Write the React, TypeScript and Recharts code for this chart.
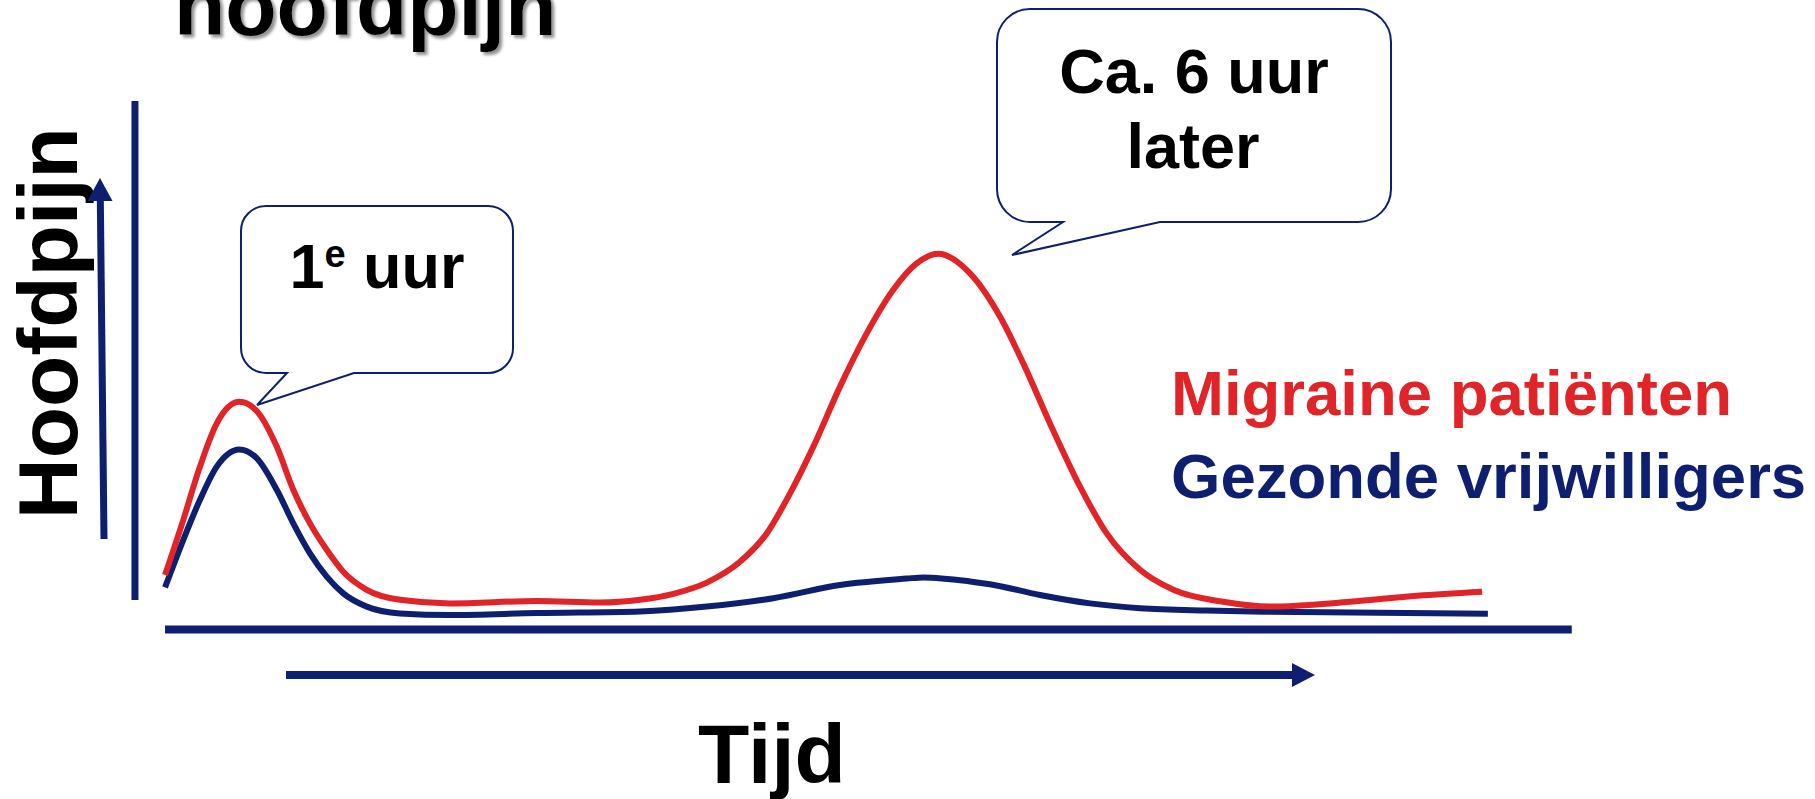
import React from "react";
import { LineChart, Line, XAxis, YAxis, ReferenceLine } from "recharts";

// time (hours) and headache level
const migraineTime = [
  0.365, 0.522, 0.665, 0.809, 1.003, 1.152, 1.324, 1.466, 1.609, 1.753, 1.895,
  2.096, 2.382, 2.811, 3.558, 4.099, 4.442, 4.728, 5.015, 5.3, 5.53, 5.73,
  5.93, 6.159, 6.388, 6.616, 6.817, 7.003, 7.275, 7.532, 7.732, 7.961, 8.219,
  8.448, 8.734, 9.02, 9.449, 9.85, 10.536, 11.112, 11.67,
];
const migraineLevel = [
  1.35, 2.73, 4.06, 5.14, 5.68, 5.45, 4.56, 3.48, 2.64, 1.98, 1.43, 0.98, 0.73,
  0.64, 0.7, 0.66, 0.73, 0.88, 1.16, 1.68, 2.39, 3.39, 4.56, 6.06, 7.39, 8.48,
  9.14, 9.38, 8.89, 7.81, 6.64, 5.14, 3.56, 2.39, 1.48, 0.98, 0.68, 0.56, 0.68,
  0.83, 0.93,
];

const healthyTime = [
  0.365, 0.522, 0.665, 0.809, 1.003, 1.152, 1.324, 1.466, 1.609, 1.753, 1.895,
  2.096, 2.382, 2.811, 3.558, 4.442, 5.015, 5.586, 6.159, 6.731, 6.874, 7.275,
  7.446, 7.875, 8.305, 8.734, 9.307, 9.85, 11.72,
];
const healthyLevel = [
  1.04, 2.23, 3.23, 4.06, 4.49, 4.27, 3.48, 2.64, 1.89, 1.31, 0.89, 0.56, 0.39,
  0.35, 0.4, 0.44, 0.56, 0.77, 1.1, 1.26, 1.29, 1.19, 1.12, 0.85, 0.64, 0.52,
  0.46, 0.43, 0.38,
];

const seriesNames = ["Migraine patiënten", "Gezonde vrijwilligers"];

const RED = "#E02428";
const NAVY = "#0E1F70";
const FONT = "'Liberation Sans', Arial, sans-serif";

const migraineData = migraineTime.map((t, i) => ({ t, v: migraineLevel[i] }));
const healthyData = healthyTime.map((t, i) => ({ t, v: healthyLevel[i] }));

function bubble(
  x0: number,
  y0: number,
  x1: number,
  y1: number,
  r: number,
  tailA: number,
  tailB: number,
  tipX: number,
  tipY: number
) {
  return (
    `M${x0 + r},${y0} H${x1 - r} A${r},${r} 0 0 1 ${x1},${y0 + r} ` +
    `V${y1 - r} A${r},${r} 0 0 1 ${x1 - r},${y1} H${tailB} L${tipX},${tipY} ` +
    `L${tailA},${y1} H${x0 + r} A${r},${r} 0 0 1 ${x0},${y1 - r} ` +
    `V${y0 + r} A${r},${r} 0 0 1 ${x0 + r},${y0} Z`
  );
}

export default function App() {
  return (
    <div
      style={{
        position: "absolute",
        left: 0,
        top: 0,
        width: 1815,
        height: 799,
        background: "#fff",
        overflow: "hidden",
      }}
    >
      <LineChart
        width={1815}
        height={799}
        margin={{ top: 229, right: 178, bottom: 170, left: 122.5 }}
      >
        <XAxis
          type="number"
          dataKey="t"
          domain={[0, 13]}
          allowDataOverflow
          hide
        />
        <YAxis type="number" domain={[0, 10]} allowDataOverflow hide />
        {/* axis strokes */}
        <ReferenceLine
          segment={[
            { x: 0.107, y: 0.725 },
            { x: 0.107, y: 13.2 },
          ]}
          stroke={NAVY}
          strokeWidth={7}
          ifOverflow="visible"
        />
        <ReferenceLine
          segment={[
            { x: 0.365, y: -0.012 },
            { x: 12.44, y: -0.012 },
          ]}
          stroke={NAVY}
          strokeWidth={8}
          ifOverflow="visible"
        />
        <Line
          data={healthyData}
          dataKey="v"
          name={seriesNames[1]}
          type="monotone"
          stroke={NAVY}
          strokeWidth={6}
          dot={false}
          isAnimationActive={false}
        />
        <Line
          data={migraineData}
          dataKey="v"
          name={seriesNames[0]}
          type="monotone"
          stroke={RED}
          strokeWidth={6}
          dot={false}
          isAnimationActive={false}
        />
      </LineChart>

      <svg
        width={1815}
        height={799}
        style={{ position: "absolute", left: 0, top: 0, pointerEvents: "none" }}
        fontFamily={FONT}
        fontWeight="bold"
      >
        <defs>
          <filter id="shadow" x="-10%" y="-30%" width="120%" height="160%">
            <feDropShadow dx="3" dy="3" stdDeviation="1.5" floodColor="#777" floodOpacity="0.8" />
          </filter>
        </defs>

        <text x={174} y={35} fontSize={84} fill="#000" filter="url(#shadow)">
          hoofdpijn
        </text>

        <text
          transform="translate(77,323) rotate(-90)"
          textAnchor="middle"
          fontSize={84}
          fill="#000"
        >
          Hoofdpijn
        </text>

        {/* up arrow */}
        <line x1={104} y1={539} x2={100.3} y2={198} stroke={NAVY} strokeWidth={7} />
        <polygon points="100,178 87.5,201 112.5,201" fill={NAVY} />

        {/* time arrow */}
        <line x1={286} y1={675} x2={1296} y2={675} stroke={NAVY} strokeWidth={8} />
        <polygon points="1315,675 1292,663 1292,687" fill={NAVY} />

        <text x={772} y={783} textAnchor="middle" fontSize={84} fill="#000">
          Tijd
        </text>

        {/* callouts */}
        <path
          d={bubble(241, 206, 513, 373, 25, 287, 354, 257, 405)}
          fill="#fff"
          stroke={NAVY}
          strokeWidth={2}
        />
        <text x={377} y={288} textAnchor="middle" fontSize={63} fill="#000">
          <tspan>1</tspan>
          <tspan dy={-21} fontSize={38}>e</tspan>
          <tspan dy={21}> uur</tspan>
        </text>

        <path
          d={bubble(997, 9, 1391, 222, 33, 1063, 1160, 1012, 255)}
          fill="#fff"
          stroke={NAVY}
          strokeWidth={2}
        />
        <text x={1194} y={93} textAnchor="middle" fontSize={63} fill="#000">
          Ca. 6 uur
        </text>
        <text x={1193} y={168} textAnchor="middle" fontSize={63} fill="#000">
          later
        </text>

        {/* legend */}
        <text x={1171} y={415} fontSize={63.5} fill={RED}>
          {seriesNames[0]}
        </text>
        <text x={1171} y={498} fontSize={63.5} fill={NAVY}>
          {seriesNames[1]}
        </text>
      </svg>
    </div>
  );
}
